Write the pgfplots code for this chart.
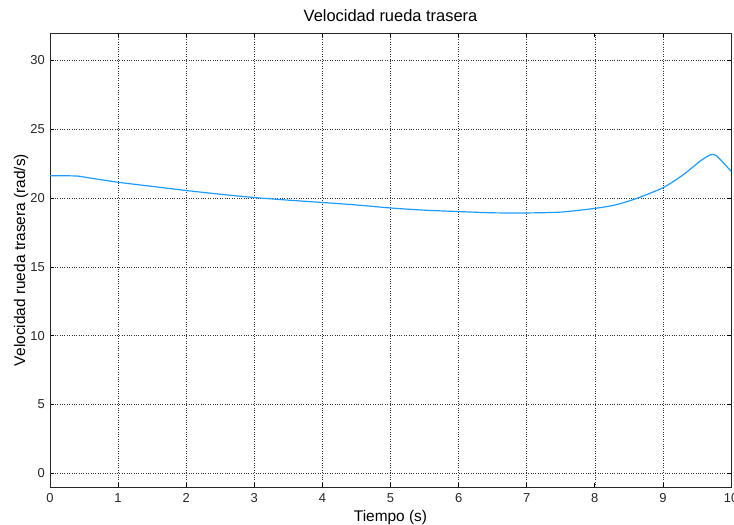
\documentclass[border=0pt]{standalone}
\usepackage{pgfplots}
\pgfplotsset{compat=1.18}
\usepackage{fontspec}
\setmainfont{Liberation Sans}
\definecolor{curve}{RGB}{30,155,255}
\begin{document}
\begin{tikzpicture}[x=1bp,y=1bp]
\useasboundingbox (-50,-38) rectangle (684,487);
\begin{axis}[
  at={(0,0)}, anchor=south west,
  scale only axis, width=681bp, height=454bp,
  xmin=0, xmax=10, ymin=-1, ymax=32,
  xtick={0,1,...,10}, ytick={0,5,...,30},
  grid=major,
  major grid style={black!80, dotted, line width=0.6pt},
  axis line style={black!85, line width=0.7pt},
  tick style={black, line width=0.7pt},
  major tick length=4bp,
  tick align=inside,
  /pgf/number format/assume math mode=true,
  ticklabel style={font=\fontsize{13}{15}\selectfont, color=black!85},
  xticklabel style={anchor=base, inner sep=0pt, yshift=-16bp},
  yticklabel style={anchor=east, inner sep=0pt, xshift=-5bp},
  title={Velocidad rueda trasera},
  title style={font=\fontsize{16.5}{18}\selectfont, at={(axis description cs:0.5,1)}, anchor=base, yshift=6bp, inner sep=0pt},
  xlabel={Tiempo (s)},
  xlabel style={font=\fontsize{15.5}{17}\selectfont, at={(axis description cs:0.5,0)}, anchor=base, yshift=-35bp, inner sep=0pt},
  ylabel={Velocidad rueda trasera (rad/s)},
  ylabel style={font=\fontsize{15.5}{17}\selectfont, at={(axis description cs:-0.0367,0.5)}, anchor=base, rotate=0, inner sep=0pt},
]
\addplot[color=curve, line width=1.2pt, smooth, tension=0.4] coordinates {
(0,21.62) (0.2,21.62) (0.4,21.6) (0.6,21.45) (1,21.15) (1.5,20.85) (2,20.55)
(2.5,20.28) (3,20.04) (3.5,19.85) (4,19.68) (4.5,19.5) (5,19.28) (5.5,19.12)
(6,19.02) (6.5,18.93) (7,18.92) (7.5,18.98) (8,19.25) (8.3,19.5) (8.6,19.95)
(9,20.75) (9.3,21.7) (9.55,22.7) (9.7,23.15) (9.78,23.1) (9.9,22.5) (10,21.95)
};
\end{axis}
\end{tikzpicture}
\end{document}
